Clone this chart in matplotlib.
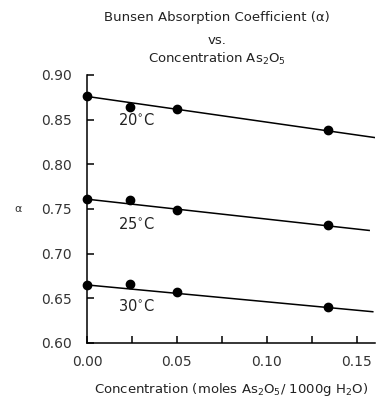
import matplotlib
matplotlib.use("Agg")
import matplotlib.pyplot as plt

# measured points (concentration, alpha)
conc = [0.0, 0.024, 0.05, 0.134]
alpha_20 = [0.876, 0.864, 0.862, 0.838]
alpha_25 = [0.761, 0.760, 0.749, 0.732]
alpha_30 = [0.665, 0.666, 0.657, 0.640]

# fitted straight lines (endpoints)
line_x_20 = [0.0, 0.160]
line_y_20 = [0.876, 0.830]
line_x_25 = [0.0, 0.157]
line_y_25 = [0.761, 0.726]
line_x_30 = [0.0, 0.159]
line_y_30 = [0.665, 0.635]

temps = ["20$^{\\circ}$C", "25$^{\\circ}$C", "30$^{\\circ}$C"]
label_y = [0.850, 0.733, 0.641]

xticks = [0.0, 0.05, 0.10, 0.15]
xtick_labels = ["0.00", "0.05", "0.10", "0.15"]
yticks = [0.60, 0.65, 0.70, 0.75, 0.80, 0.85, 0.90]
ytick_labels = ["0.60", "0.65", "0.70", "0.75", "0.80", "0.85", "0.90"]

plt.rcParams['font.family'] = ['DejaVu Sans']
plt.rcParams['mathtext.fontset'] = 'dejavusans'

fig = plt.figure(figsize=(3.86, 4.0), dpi=100)
ax = fig.add_axes([0.2254, 0.1425, 0.745, 0.67])

for xs, ys, lx, ly in [(conc, alpha_20, line_x_20, line_y_20),
                       (conc, alpha_25, line_x_25, line_y_25),
                       (conc, alpha_30, line_x_30, line_y_30)]:
    ax.plot(lx, ly, color='black', linewidth=1.1)
    ax.plot(xs, ys, 'o', color='black', markersize=6, clip_on=False)

for t, y in zip(temps, label_y):
    ax.text(0.017, y, t, fontsize=10.5, va='center', ha='left', color='#222222')

ax.set_xlim(0, 0.16)
ax.set_ylim(0.60, 0.90)
ax.spines['top'].set_visible(False)
ax.spines['right'].set_visible(False)
ax.spines['left'].set_linewidth(1.1)
ax.spines['bottom'].set_linewidth(1.1)

ax.set_xticks(xticks)
ax.set_xticklabels(xtick_labels)
ax.set_xticks([0.025, 0.075, 0.125], minor=True)
ax.set_yticks(yticks)
ax.set_yticklabels(ytick_labels)
ax.tick_params(direction='in', length=5, width=1.1, labelsize=10, labelcolor='#333333')
ax.tick_params(axis='y', pad=11)
ax.tick_params(axis='x', pad=9)
ax.tick_params(which='minor', direction='in', length=5, width=1.1)

ax.set_xlabel("Concentration (moles As$_2$O$_5$/ 1000g H$_2$O)", fontsize=9.5, labelpad=8, color='#222222')
ax.text(-0.24, 0.5, "α", transform=ax.transAxes, fontsize=8, va='center', ha='center', color='#333333')

fig.text(0.563, 0.955, "Bunsen Absorption Coefficient (α)", fontsize=9.5, ha='center', va='center', color='#222222')
fig.text(0.563, 0.90, "vs.", fontsize=9.5, ha='center', va='center', color='#222222')
fig.text(0.563, 0.853, "Concentration As$_2$O$_5$", fontsize=9.5, ha='center', va='center', color='#222222')

fig.savefig("out.png", dpi=100)
